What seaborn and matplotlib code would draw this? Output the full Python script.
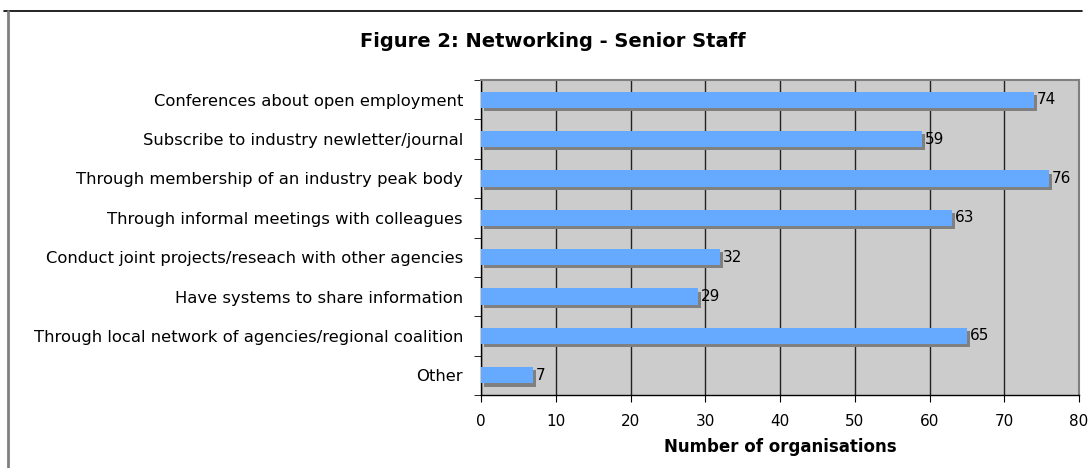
import matplotlib
matplotlib.use("Agg")
import matplotlib.pyplot as plt
import matplotlib.patheffects as pe
from matplotlib.lines import Line2D
import seaborn as sns
import pandas as pd

categories = [
    "Conferences about open employment",
    "Subscribe to industry newletter/journal",
    "Through membership of an industry peak body",
    "Through informal meetings with colleagues",
    "Conduct joint projects/reseach with other agencies",
    "Have systems to share information",
    "Through local network of agencies/regional coalition",
    "Other",
]
values = [74, 59, 76, 63, 32, 29, 65, 7]
x_ticks = [0, 10, 20, 30, 40, 50, 60, 70, 80]

sns.set_style("white")
plt.rcParams["font.family"] = ["DejaVu Sans"]
plt.rcParams["text.color"] = "black"
plt.rcParams["axes.labelcolor"] = "black"
plt.rcParams["xtick.color"] = "black"
plt.rcParams["ytick.color"] = "black"

df = pd.DataFrame({"category": categories, "value": values})

fig = plt.figure(figsize=(10.91, 4.68), dpi=100)
ax = fig.add_axes([481 / 1091, 1 - 395 / 468, (1079 - 481) / 1091, (395 - 80) / 468])

sns.barplot(data=df, x="value", y="category", orient="h", color="#66AAFF",
            saturation=1, width=0.41, ax=ax, zorder=3)

for p in ax.patches:
    p.set_edgecolor("none")
    p.set_path_effects([pe.SimplePatchShadow(offset=(2.0, -2.3), shadow_rgbFace="#808080", alpha=1.0),
                        pe.Normal()])

for c in ax.containers:
    ax.bar_label(c, padding=2.0, fontsize=11, color="black")

ax.set_facecolor("#CCCCCC")
ax.set_xlim(0, 80)
ax.set_ylim(len(categories) - 0.5, -0.5)
ax.set_xticks(x_ticks)
ax.set_xticklabels([str(t) for t in x_ticks], fontsize=11)
ax.set_axisbelow(True)
ax.xaxis.grid(True, color="#222222", linewidth=1.0)
ax.yaxis.grid(False)

ax.set_yticks(range(len(categories)))
ax.set_yticklabels(categories, fontsize=11.8)
ax.set_yticks([i - 0.5 for i in range(len(categories) + 1)], minor=True)
ax.tick_params(axis="y", which="major", length=0, pad=13)
ax.tick_params(axis="y", which="minor", length=5, direction="out", left=True, color="black")
ax.tick_params(axis="x", which="major", length=5, direction="out", bottom=True, color="black", pad=9)

ax.set_ylabel("")
ax.set_xlabel("Number of organisations", fontsize=12, fontweight="bold", labelpad=6, color="black")

for side in ["left", "bottom"]:
    ax.spines[side].set_color("black")
    ax.spines[side].set_linewidth(1.0)
for side in ["top", "right"]:
    ax.spines[side].set_color("#808080")
    ax.spines[side].set_linewidth(1.5)

fig.text(553 / 1091, 1 - 47 / 468, "Figure 2: Networking - Senior Staff",
         ha="center", va="baseline", fontsize=14, fontweight="bold")

fig.add_artist(Line2D([4 / 1091, 1082 / 1091], [1 - 11 / 468, 1 - 11 / 468],
                      transform=fig.transFigure, color="black", linewidth=1.2))
fig.add_artist(Line2D([8 / 1091, 8 / 1091], [0, 1 - 11 / 468],
                      transform=fig.transFigure, color="#808080", linewidth=2))

fig.savefig("out.png", dpi=100)
